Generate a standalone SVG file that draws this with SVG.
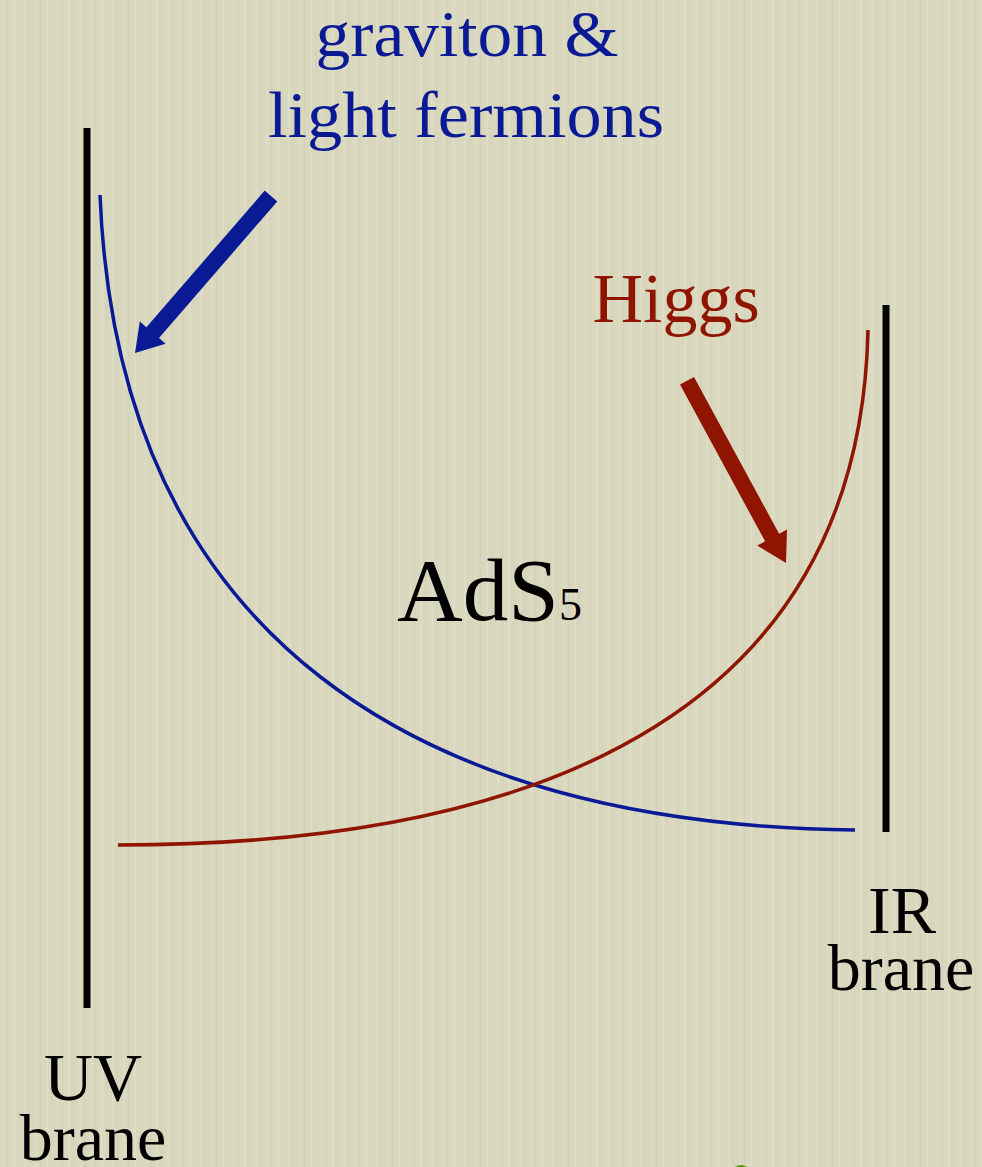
<svg xmlns="http://www.w3.org/2000/svg" width="982" height="1167" viewBox="0 0 982 1167">
<defs>
<pattern id="paper" width="11" height="40" patternUnits="userSpaceOnUse">
<rect width="11" height="40" fill="#d9d8bf"/>
<rect x="2" width="2" height="40" fill="#e2e1ca" opacity="0.5"/>
<rect x="7" width="1.5" height="40" fill="#cccbb1" opacity="0.4"/>
</pattern>
<style>
.t{font-family:"Liberation Serif","DejaVu Serif",serif;font-size:66px;text-anchor:middle}
.brane{stroke:#000;stroke-width:7;fill:none}
.curve{fill:none;stroke-width:3.5}
</style>
</defs>
<rect width="982" height="1167" fill="url(#paper)"/>
<g id="uv-brane"><line class="brane" x1="87" y1="128" x2="87" y2="1008"/></g>
<g id="ir-brane"><line class="brane" x1="886" y1="305" x2="886" y2="832"/></g>
<g id="connectors">
<path id="graviton-profile" class="curve" stroke="#0a1a94" d="M100,195 C118,640 420,825 855,830"/>
<path id="higgs-profile" class="curve" stroke="#901500" d="M868,330 C860,700 560,845 118,845"/>
<polygon id="blue-arrow" fill="#0a1a94" points="135,353 165.6,343.7 159.0,338.0 277.3,201.4 264.7,190.6 146.4,327.2 139.8,321.5"/>
<polygon id="red-arrow" fill="#901500" points="786,563 757.2,545.6 765.1,541.3 680.0,384.5 694.0,376.9 779.1,533.7 787.0,529.4"/>
</g>
<g id="label-graviton">
<text class="t" x="467" y="56" fill="#0a1a94" textLength="303" lengthAdjust="spacingAndGlyphs">graviton &amp;</text>
<text class="t" x="466" y="137" fill="#0a1a94" textLength="396" lengthAdjust="spacingAndGlyphs">light fermions</text>
</g>
<g id="label-higgs"><text class="t" x="676" y="322" fill="#901500" style="font-size:70px">Higgs</text></g>
<g id="label-ads"><text x="397" y="620" style="font-family:'Liberation Serif','DejaVu Serif',serif;font-size:88px" fill="#000"><tspan textLength="162" lengthAdjust="spacingAndGlyphs">AdS</tspan><tspan style="font-size:46px" dx="0">5</tspan></text></g>
<g id="label-uv">
<text class="t" x="93" y="1100" style="font-size:68px">UV</text>
<text class="t" x="93" y="1160">brane</text>
</g>
<g id="label-ir">
<text class="t" x="902" y="933" style="font-size:68px">IR</text>
<text class="t" x="901" y="990">brane</text>
</g>
<ellipse cx="741" cy="1171" rx="8" ry="6" fill="#5a9a10"/>
</svg>
